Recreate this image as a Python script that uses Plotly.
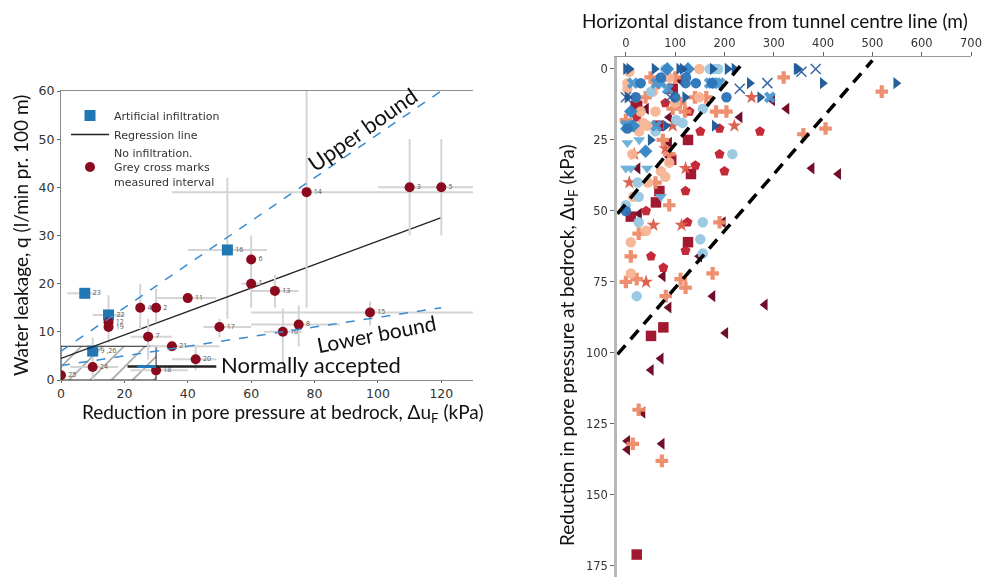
import plotly.graph_objects as go

# ---------------- Left panel data ----------------
inf_ids = ["23", "22", "16", "9 ,26"]
inf_x = [7.5, 15, 52.5, 10]
inf_y = [18, 13.5, 27, 6]
inf_xlo = [2, 10, 40, 10]
inf_xhi = [11, 20, 65, 10]
inf_ylo = [18, 7.7, 12.7, 0]
inf_yhi = [18, 17.6, 42, 8.8]

no_ids = ["1", "2", "3", "4", "5", "6", "7", "8", "10", "11", "12", "13", "14",
          "15", "17", "18", "19", "20", "21", "24", "25"]
no_x = [60, 30, 110, 25, 120, 60, 27.5, 75, 70, 40, 15, 67.5, 77.5,
        97.5, 50, 30, 15, 42.5, 35, 10, 0]
no_y = [20, 15, 40, 15, 40, 25, 9, 11.5, 10, 17, 12, 18.5, 39,
        14, 11, 2, 11, 4.3, 7, 2.7, 1]
no_xlo = [57, 30, 100, 25, 110, 60, 22, 60, 64, 30, 15, 60, 35,
          60, 45, 22, 15, 35, 28, 3, 0]
no_xhi = [63, 30, 120, 25, 130, 60, 35, 88, 76, 49, 15, 75, 130,
          130, 60, 40, 15, 49, 50, 18, 1]
no_ylo = [20, 12, 30, 10.5, 30, 15, 4.2, 7, 3.5, 17, 12, 15, 15,
          11.3, 8.8, 2, 11, 2, 7, 2.7, 1]
no_yhi = [20, 19, 50, 20, 50, 30, 12.7, 15.5, 14.8, 17, 12, 21.8, 60,
          16.3, 12.7, 2, 11, 7, 7, 2.7, 1]

line_x = [0, 120]
upper_y = [6, 60]
regress_y = [4.5, 33.7]
lower_y = [3, 15]

box_x = [0, 30, 30, 0, 0]
box_y = [0, 0, 7, 7, 0]

accepted_x = [21, 49]
accepted_y = [2.8, 2.8]
accepted_blue_x = [24, 30]

# ---------------- Right panel data ----------------
series = [
    # (symbol, color, xs, ys)
    ("triangle-left", "#6a0320",
     [60, 41, 88, 88, 88, 24, 27, 297, 231, 326, 197, 377, 431, 75, 87, 176, 282, 202, 71, 51, 34, 3, 3, 73, 149, 110],
     [4, 14, 17, 26, 31, 35, 51, 11, 17, 14, 54, 35, 37, 73, 84, 80, 83, 93, 102, 106, 121, 131, 134, 132, 66, 4]),
    ("square", "#9c0d25",
     [20, 65, 126, 92, 132, 68, 61, 10, 126, 76, 51, 22, 95, 23],
     [13, 20, 25, 32, 37, 43, 47, 52, 61, 91, 94, 171, 7, 13]),
    ("pentagon", "#c11f2d",
     [22, 129, 190, 272, 151, 190, 200, 141, 121, 41, 51, 76, 121, 125, 80],
     [17, 15, 21, 22, 22, 30, 36, 34, 43, 50, 66, 70, 64, 54, 12]),
    ("star", "#db5a48",
     [17, 7, 121, 56, 113, 220, 255, 41, 80, 95],
     [30, 40, 35, 55, 55, 20, 10, 75, 28, 20]),
    ("cross", "#ee8b68",
     [65, 95, 183, 204, 320, 0, 88, 88, 190, 26, 10, 0, 22, 111, 176, 121, 81, 26, 14, 73, 519, 405, 360, 163, 40, 50, 100, 140, 120, 60, 110, 75],
     [5, 14, 15, 15, 3, 18, 30, 48, 54, 58, 66, 75, 74, 74, 72, 77, 80, 120, 132, 138, 8, 21, 23, 10, 10, 3, 3, 10, 15, 40, 12, 25]),
    ("circle", "#f6b594",
     [7, 3, 88, 27, 43, 13, 71, 88, 149, 10, 41, 10, 3, 149, 20, 60, 45, 80, 100, 30, 15, 35, 55],
     [1, 5, 3, 22, 20, 30, 36, 33, 0, 61, 57, 72, 7, 10, 10, 15, 40, 38, 12, 15, 45, 19, 8]),
    ("circle", "#98c8e2",
     [180, 187, 51, 102, 156, 216, 156, 26, 24, 26, 0, 151, 156, 22, 80, 170, 60, 115],
     [0, 0, 8, 18, 14, 30, 54, 45, 40, 54, 48, 60, 65, 80, 0, 0, 22, 19]),
    ("triangle-down", "#6aaed8",
     [3, 27, 0, 43, 71, 10],
     [26, 25, 35, 35, 45, 35]),
    ("x", "#4b98d0",
     [14, 62, 71, 170, 176, 183, 190, 292, 0, 5, 85, 62],
     [5, 5, 5, 5, 5, 5, 5, 10, 20, 20, 7, 20]),
    ("diamond", "#3283c4",
     [10, 40, 84, 126, 15],
     [15, 29, 0, 0, 20]),
    ("circle", "#2a74b8",
     [30, 71, 122, 142, 175, 3, 204, 0, 121, 100, 20],
     [5, 3, 3, 5, 5, 21, 10, 50, 5, 10, 10]),
    ("x-thin-open", "#2f5f9e",
     [0, 90, 231, 287, 356, 385],
     [10, 10, 7, 5, 1, 0]),
    ("triangle-right", "#1c5796",
     [0, 7, 58, 108, 115, 176, 206, 220, 346, 349, 251, 399, 548, 272, 3, 180, 81, 50, 120],
     [0, 0, 0, 0, 0, 0, 0, 0, 0, 0, 5, 5, 5, 10, 10, 20, 20, 25, 10]),
]

guide1_x = [-17, 234]
guide1_y = [51, -1.5]
guide2_x = [-17, 500]
guide2_y = [100.5, -3]

# ---------------- Figure ----------------
W, H = 997, 577
OFF = 8  # page offset of the plot in the browser


def PX(p):
    return (p - OFF) / W


def PY(p):
    return 1 - (p - OFF) / H


fig = go.Figure()
RED = "#8b0a1e"
BLUE = "#1f77b4"
DASHBLUE = "#3a8bd0"
GREYBAR = "#d4d4d4"


def errs(vals, lo, hi):
    plus = [h - v for v, h in zip(vals, hi)]
    minus = [v - l for v, l in zip(vals, lo)]
    return plus, minus


# hatched normally accepted box
fig.add_trace(go.Scatter(x=box_x, y=box_y, mode="lines", fill="toself",
                         fillcolor="rgba(0,0,0,0)",
                         fillpattern=dict(shape="/", fgcolor="#111", bgcolor="rgba(0,0,0,0)",
                                          size=15, solidity=0.08),
                         line=dict(color="#222", width=1), showlegend=False, hoverinfo="skip",
                         xaxis="x", yaxis="y"))

px_, mx_ = errs(inf_x, inf_xlo, inf_xhi)
py_, my_ = errs(inf_y, inf_ylo, inf_yhi)
fig.add_trace(go.Scatter(x=inf_x, y=inf_y, mode="markers+text", text=inf_ids,
                         textposition="middle right", textfont=dict(size=7, color="#555"),
                         marker=dict(symbol="square", size=11, color=BLUE),
                         error_x=dict(type="data", array=px_, arrayminus=mx_, color=GREYBAR, thickness=2, width=0),
                         error_y=dict(type="data", array=py_, arrayminus=my_, color=GREYBAR, thickness=2, width=0),
                         name="Artificial infiltration", xaxis="x", yaxis="y"))

fig.add_trace(go.Scatter(x=line_x, y=regress_y, mode="lines", line=dict(color="#222", width=1.3),
                         name="Regression line", xaxis="x", yaxis="y"))

px_, mx_ = errs(no_x, no_xlo, no_xhi)
py_, my_ = errs(no_y, no_ylo, no_yhi)
fig.add_trace(go.Scatter(x=no_x, y=no_y, mode="markers+text", text=no_ids,
                         textposition="middle right", textfont=dict(size=7, color="#555"),
                         marker=dict(symbol="circle", size=10, color=RED),
                         error_x=dict(type="data", array=px_, arrayminus=mx_, color=GREYBAR, thickness=2, width=0),
                         error_y=dict(type="data", array=py_, arrayminus=my_, color=GREYBAR, thickness=2, width=0),
                         name="No infiltration.<br>Grey cross marks<br>measured interval",
                         xaxis="x", yaxis="y"))

fig.add_trace(go.Scatter(x=line_x, y=upper_y, mode="lines", line=dict(color=DASHBLUE, width=1.5, dash="dash"),
                         showlegend=False, xaxis="x", yaxis="y"))
fig.add_trace(go.Scatter(x=line_x, y=lower_y, mode="lines", line=dict(color=DASHBLUE, width=1.5, dash="dash"),
                         showlegend=False, xaxis="x", yaxis="y"))
fig.add_trace(go.Scatter(x=accepted_x, y=accepted_y, mode="lines", line=dict(color="#222", width=2.5),
                         showlegend=False, xaxis="x", yaxis="y"))
fig.add_trace(go.Scatter(x=accepted_blue_x, y=accepted_y, mode="lines", line=dict(color=BLUE, width=3),
                         showlegend=False, xaxis="x", yaxis="y"))

# Right panel
for sym, col, xs, ys in series:
    mk = dict(symbol=sym, size=10.5, color=col)
    if sym == "x-thin-open":
        mk = dict(symbol=sym, size=10, color=col, line=dict(color=col, width=1.5))
    fig.add_trace(go.Scatter(x=xs, y=ys, mode="markers", marker=mk, opacity=0.95,
                             showlegend=False, xaxis="x2", yaxis="y2"))

for gx, gy in [(guide1_x, guide1_y), (guide2_x, guide2_y)]:
    fig.add_trace(go.Scatter(x=gx, y=gy, mode="lines", line=dict(color="black", width=3.5, dash="12px,8px"),
                             showlegend=False, xaxis="x2", yaxis="y2", cliponaxis=False))

TICKFONT = dict(family="DejaVu Sans", size=12.5, color="#333")
TITLEFONT = dict(family="Lato", size=19, color="#111")

fig.update_layout(
    width=W, height=H, margin=dict(l=0, r=0, t=0, b=0, pad=0, autoexpand=False),
    paper_bgcolor="white", plot_bgcolor="white",
    xaxis=dict(domain=[PX(61), PX(473)], range=[0, 130], tickvals=[0, 20, 40, 60, 80, 100, 120],
               showgrid=False, zeroline=False, showline=True, linecolor="#8c8c8c", linewidth=1.2,
               mirror=True, ticks="outside", ticklen=2, tickcolor="#666", tickfont=TICKFONT,
               anchor="y", automargin=False),
    yaxis=dict(domain=[PY(380), PY(91)], range=[0, 60], tickvals=[0, 10, 20, 30, 40, 50, 60],
               showgrid=False, zeroline=False, showline=True, linecolor="#8c8c8c", linewidth=1.2,
               ticks="outside", ticklen=3, tickcolor="#666", tickfont=TICKFONT, anchor="x",
               automargin=False),
    xaxis2=dict(domain=[PX(617), PX(971)], range=[-18, 700], side="top",
                tickvals=[0, 100, 200, 300, 400, 500, 600, 700],
                showgrid=False, zeroline=False, showline=True, linecolor="#999", linewidth=1,
                ticks="outside", ticklen=4, tickcolor="#666",
                tickfont=dict(family="DejaVu Sans", size=11.5, color="#333"), anchor="y2",
                automargin=False),
    yaxis2=dict(domain=[PY(577), PY(57)], range=[178.9, -4.2],
                tickvals=[0, 25, 50, 75, 100, 125, 150, 175],
                showgrid=False, zeroline=False, showline=True, linecolor="#b8b8b8", linewidth=2.5,
                ticks="outside", ticklen=4, tickcolor="#666",
                tickfont=dict(family="DejaVu Sans", size=11.5, color="#333"), anchor="x2",
                automargin=False),
    legend=dict(x=PX(66), y=PY(101), xanchor="left", yanchor="top", bgcolor="rgba(0,0,0,0)",
                font=dict(family="DejaVu Sans", size=11, color="#333"), tracegroupgap=2,
                itemwidth=38),
    annotations=[
        dict(text="Water leakage, q (l/min pr. 100 m)", xref="paper", yref="paper",
             x=PX(20), y=PY(236), textangle=-90, showarrow=False, font=TITLEFONT,
             xanchor="center", yanchor="middle"),
        dict(text="Reduction in pore pressure at bedrock, Δu<sub>F</sub> (kPa)", xref="paper", yref="paper",
             x=PX(283), y=PY(413), showarrow=False, font=TITLEFONT, xanchor="center", yanchor="middle"),
        dict(text="Horizontal distance from tunnel centre line (m)", xref="paper", yref="paper",
             x=PX(775), y=1.0, showarrow=False, font=TITLEFONT, xanchor="center", yanchor="top",
             borderpad=0),
        dict(text="Reduction in pore pressure at bedrock, Δu<sub>F</sub> (kPa)", xref="paper", yref="paper",
             x=PX(568), y=PY(345), textangle=-90, showarrow=False, font=TITLEFONT,
             xanchor="center", yanchor="middle"),
        dict(text="Upper bound", xref="x", yref="y", x=95, y=52, textangle=-35, showarrow=False,
             font=dict(family="Lato", size=22, color="#111")),
        dict(text="Lower bound", xref="x", yref="y", x=99.5, y=9.7, textangle=-11, showarrow=False,
             font=dict(family="Lato", size=21, color="#111")),
        dict(text="Normally accepted", xref="x", yref="y", x=50, y=3.2, xanchor="left", showarrow=False,
             font=dict(family="Lato", size=22, color="#111")),
    ],
)

fig.write_html("out.html")
